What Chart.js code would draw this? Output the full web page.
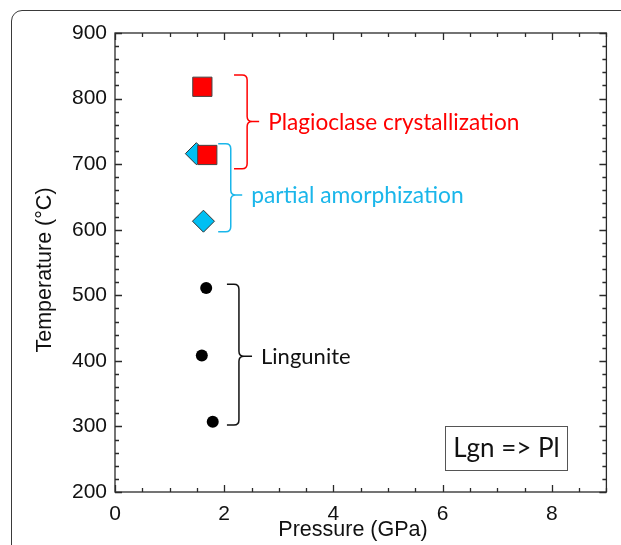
<!DOCTYPE html>
<html>
<head>
<meta charset="utf-8">
<script src="https://cdn.jsdelivr.net/npm/chart.js@4.4.1/dist/chart.umd.min.js"></script>
<style>
  body { margin: 0; background: #fff; }
  #wrap { position: relative; width: 621px; height: 545px; overflow: hidden; }
  #frame { position: absolute; left: 11px; top: 10px; width: 700px; height: 700px;
           border: 1.4px solid #3a3a3a; border-radius: 11px; }
  canvas { position: absolute; left: 0; top: 0; }
</style>
</head>
<body>
<div id="wrap">
  <div id="frame"></div>
  <canvas id="ptChart" width="621" height="545"></canvas>
</div>
<script>
// run conditions: pressure (GPa) and temperature (°C)
const crystPressure = [1.6, 1.69];
const crystTemp = [818, 714];
const amorphPressure = [1.49, 1.62];
const amorphTemp = [716, 613];
const lgnPressure = [1.67, 1.59, 1.79];
const lgnTemp = [511, 408, 307];

const xTickLabels = [0, 2, 4, 6, 8];
const yTickLabels = [200, 300, 400, 500, 600, 700, 800, 900];

const RED = '#ff0000';
const CYAN = '#00bff3';
const AXIS_FONT = "'Liberation Sans', Arial, sans-serif";
const NOTE_FONT = "Lato, 'Open Sans', sans-serif";

// curly braces grouping the runs (data units)
const braces = [
  { text: 'Plagioclase crystallization', color: RED, size: 22.6, x: 2.42, hook: 2.18, tip: 2.64, top: 836, mid: 765, bottom: 693 },
  { text: 'partial amorphization', color: '#1ab6ea', size: 22.8, x: 2.12, hook: 1.89, tip: 2.33, top: 731, mid: 653, bottom: 597 },
  { text: 'Lingunite', color: '#111', size: 22, x: 2.27, hook: 2.05, tip: 2.51, top: 517, mid: 407, bottom: 302 }
];
const reactionBox = { text: 'Lgn => Pl', x0: 6.05, x1: 8.29, y0: 234, y1: 301 };

function toPoints(xs, ys) {
  return xs.map((x, i) => ({ x: x, y: ys[i] }));
}

// frame round the plot with inward major/minor ticks on all four sides
const frameTicks = {
  id: 'frameTicks',
  beforeDatasetsDraw(chart) {
    const { ctx, chartArea: a, scales: { x, y } } = chart;
    ctx.save();
    ctx.strokeStyle = '#2a2a2a';
    ctx.lineWidth = 1.3;
    ctx.strokeRect(a.left, a.top, a.right - a.left, a.bottom - a.top);
    ctx.beginPath();
    for (let v = x.min; v <= x.max + 1e-9; v += 0.5) {
      const px = Math.round(x.getPixelForValue(v)) + 0.5;
      const len = xTickLabels.includes(v) ? 7 : 4;
      ctx.moveTo(px, a.bottom); ctx.lineTo(px, a.bottom - len);
      ctx.moveTo(px, a.top); ctx.lineTo(px, a.top + len);
    }
    for (let v = y.min; v <= y.max + 1e-9; v += 20) {
      const py = Math.round(y.getPixelForValue(v)) + 0.5;
      const len = yTickLabels.includes(v) ? 7 : 4;
      ctx.moveTo(a.left, py); ctx.lineTo(a.left + len, py);
      ctx.moveTo(a.right, py); ctx.lineTo(a.right - len, py);
    }
    ctx.stroke();

    // axis titles
    ctx.fillStyle = '#111';
    ctx.font = '21.5px ' + AXIS_FONT;
    ctx.textAlign = 'center';
    ctx.textBaseline = 'middle';
    ctx.fillText('Pressure (GPa)', 353, 530);
    ctx.translate(45, 270);
    ctx.rotate(-Math.PI / 2);
    ctx.fillText('Temperature (°C)', 0, 0);
    ctx.restore();
  }
};

// braces, their labels and the reaction box
const notes = {
  id: 'notes',
  afterDatasetsDraw(chart) {
    const { ctx, scales: { x, y } } = chart;
    ctx.save();
    ctx.lineWidth = 1.5;
    ctx.textAlign = 'left';
    ctx.textBaseline = 'alphabetic';
    braces.forEach(b => {
      const X = x.getPixelForValue(b.x), H = x.getPixelForValue(b.hook), T = x.getPixelForValue(b.tip);
      const yt = y.getPixelForValue(b.top), ym = y.getPixelForValue(b.mid), yb = y.getPixelForValue(b.bottom);
      const r = 5;
      ctx.strokeStyle = b.color;
      ctx.beginPath();
      ctx.moveTo(H, yt);
      ctx.lineTo(X - r, yt);
      ctx.quadraticCurveTo(X, yt, X, yt + r);
      ctx.lineTo(X, ym - r);
      ctx.quadraticCurveTo(X, ym, X + r, ym);
      ctx.lineTo(T, ym);
      ctx.moveTo(X + r, ym);
      ctx.quadraticCurveTo(X, ym, X, ym + r);
      ctx.lineTo(X, yb - r);
      ctx.quadraticCurveTo(X, yb, X - r, yb);
      ctx.lineTo(H, yb);
      ctx.stroke();
      ctx.fillStyle = b.color;
      ctx.font = b.size + 'px ' + NOTE_FONT;
      ctx.fillText(b.text, T + 9, ym + 8);
    });

    const bx0 = x.getPixelForValue(reactionBox.x0), bx1 = x.getPixelForValue(reactionBox.x1);
    const by0 = y.getPixelForValue(reactionBox.y1), by1 = y.getPixelForValue(reactionBox.y0);
    ctx.strokeStyle = '#555';
    ctx.lineWidth = 1;
    ctx.strokeRect(Math.round(bx0) + 0.5, Math.round(by0) + 0.5, Math.round(bx1 - bx0), Math.round(by1 - by0));
    ctx.fillStyle = '#111';
    ctx.font = '26px ' + NOTE_FONT;
    ctx.textAlign = 'center';
    ctx.fillText(reactionBox.text, (bx0 + bx1) / 2, (by0 + by1) / 2 + 9);
    ctx.restore();
  }
};

new Chart(document.getElementById('ptChart'), {
  type: 'scatter',
  data: {
    datasets: [
      {
        label: 'Plagioclase crystallization',
        data: toPoints(crystPressure, crystTemp),
        pointStyle: 'rect',
        pointRadius: 13.6,
        backgroundColor: RED,
        borderColor: '#444',
        borderWidth: 1
      },
      {
        label: 'partial amorphization',
        data: toPoints(amorphPressure, amorphTemp),
        pointStyle: 'rectRot',
        pointRadius: 11,
        backgroundColor: CYAN,
        borderColor: '#333',
        borderWidth: 1
      },
      {
        label: 'Lingunite',
        data: toPoints(lgnPressure, lgnTemp),
        pointStyle: 'circle',
        pointRadius: 6,
        backgroundColor: '#000',
        borderColor: '#000',
        borderWidth: 0
      }
    ]
  },
  options: {
    responsive: false,
    animation: false,
    layout: { padding: { top: 33, right: 11, left: 0, bottom: 0 } },
    plugins: { legend: { display: false }, tooltip: { enabled: false } },
    scales: {
      x: {
        type: 'linear',
        min: 0,
        max: 9,
        grid: { display: false, drawTicks: false },
        border: { display: false },
        afterBuildTicks: s => { s.ticks = xTickLabels.map(v => ({ value: v })); },
        afterFit: s => { s.height = 53; },
        ticks: { padding: 10, color: '#111', font: { family: AXIS_FONT, size: 21 } }
      },
      y: {
        type: 'linear',
        min: 200,
        max: 900,
        grid: { display: false, drawTicks: false },
        border: { display: false },
        afterBuildTicks: s => { s.ticks = yTickLabels.map(v => ({ value: v })); },
        afterFit: s => { s.width = 115; },
        ticks: { padding: 8, color: '#111', font: { family: AXIS_FONT, size: 21 } }
      }
    }
  },
  plugins: [frameTicks, notes]
});
</script>
</body>
</html>
